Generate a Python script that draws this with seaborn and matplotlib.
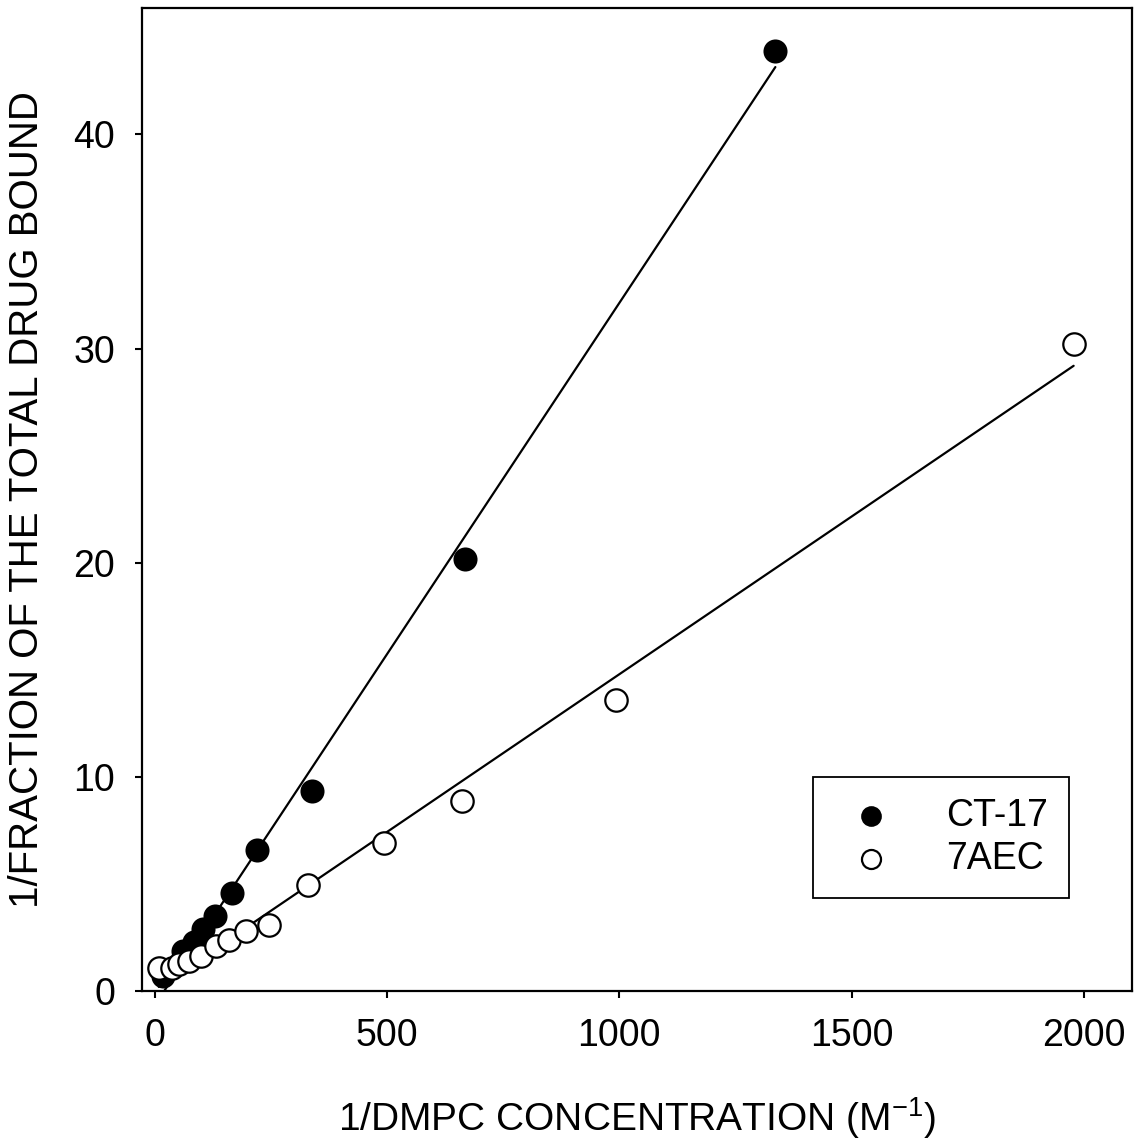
import numpy as np
import pandas as pd
import seaborn as sns
import matplotlib.pyplot as plt

# Data
ct17_x = [19, 62, 84, 105, 131, 166, 220, 338, 668, 1336]
ct17_y = [0.7, 1.9, 2.3, 2.9, 3.5, 4.6, 6.6, 9.35, 20.2, 43.9]

aec_x = [9, 37, 52, 73, 99, 133, 160, 196, 246, 330, 493, 661, 993, 1978]
aec_y = [1.07, 1.07, 1.26, 1.4, 1.64, 2.1, 2.4, 2.8, 3.1, 4.95, 6.9, 8.9, 13.6, 30.2]

x_ticks = [0, 500, 1000, 1500, 2000]
y_ticks = [0, 10, 20, 30, 40]

ct17 = pd.DataFrame({"x": ct17_x, "y": ct17_y})
aec = pd.DataFrame({"x": aec_x, "y": aec_y})

sns.set_style("ticks", rc={"axes.edgecolor": "black", "xtick.color": "black",
                           "ytick.color": "black", "text.color": "black",
                           "axes.labelcolor": "black"})
plt.rcParams['font.family'] = ['Liberation Sans', 'DejaVu Sans']
plt.rcParams['mathtext.default'] = 'regular'

fig = plt.figure(figsize=(11.42, 11.42), dpi=100)
ax = fig.add_axes([0.124, 0.132, 0.867, 0.861])

# Fitted lines
sns.regplot(data=ct17, x="x", y="y", scatter=False, ci=None, truncate=True,
            line_kws={"color": "black", "lw": 1.6}, ax=ax)
sns.regplot(data=aec, x="x", y="y", scatter=False, ci=None, truncate=True,
            line_kws={"color": "black", "lw": 1.6}, ax=ax)

# Points
sns.scatterplot(data=ct17, x="x", y="y", s=260, color="black", edgecolor="black",
                linewidth=1.2, label="CT-17", ax=ax, zorder=3)
sns.scatterplot(data=aec, x="x", y="y", s=260, facecolor="white", edgecolor="black",
                linewidth=1.6, label="7AEC", ax=ax, zorder=4)

ax.set_xlim(-28, 2103)
ax.set_ylim(0, 45.9)
ax.set_xticks(x_ticks)
ax.set_yticks(y_ticks)
ax.tick_params(direction="out", length=5, width=1.5, labelsize=27)
ax.tick_params(axis="x", pad=14)
ax.tick_params(axis="y", pad=14)
for sp in ax.spines.values():
    sp.set_linewidth(1.6)
    sp.set_visible(True)

ax.set_xlabel("1/DMPC CONCENTRATION (M$^{-1}$)", fontsize=28, labelpad=30)
ax.set_ylabel("1/FRACTION OF THE TOTAL DRUG BOUND", fontsize=29, labelpad=20)

leg = ax.legend(loc="lower left", bbox_to_anchor=(0.678, 0.095), borderaxespad=0,
                fontsize=27, frameon=True, fancybox=False, edgecolor="black",
                framealpha=1, markerscale=0.85, borderpad=0.55, handletextpad=1.0,
                labelspacing=0.2)
leg.get_frame().set_linewidth(1.3)

fig.savefig("out.png", dpi=100)
